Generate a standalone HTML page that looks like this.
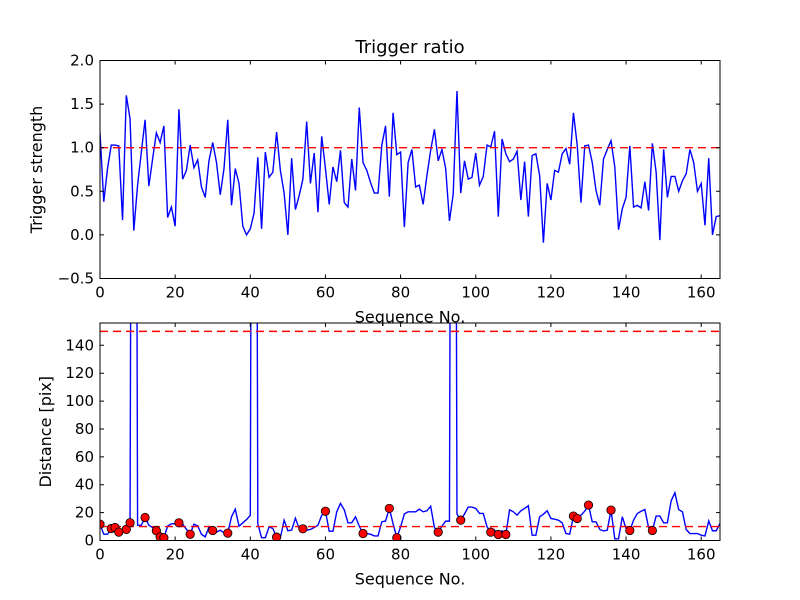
<!DOCTYPE html>
<html><head><meta charset="utf-8">
<style>
html,body{margin:0;padding:0;background:#fff;}
svg{display:block;font-family:"DejaVu Sans","Liberation Sans",sans-serif;}
</style></head>
<body>
<svg id="fig" width="800" height="600" viewBox="0 0 800 600" xmlns="http://www.w3.org/2000/svg">
<rect x="0" y="0" width="800" height="600" fill="#fff"/>
<text x="410" y="53" font-size="18" text-anchor="middle">Trigger ratio</text>
</svg>
<script>
const ratioValues = [1.17,0.38,0.76,1.03,1.03,1.02,0.17,1.6,1.33,0.05,0.57,0.95,1.32,0.56,0.87,1.17,1.06,1.25,0.2,0.32,0.1,1.44,0.64,0.74,1.03,0.77,0.86,0.55,0.43,0.85,1.06,0.83,0.46,0.76,1.32,0.34,0.76,0.59,0.1,0.0,0.07,0.25,0.89,0.07,0.95,0.66,0.72,1.18,0.74,0.48,0.0,0.88,0.29,0.45,0.64,1.3,0.59,0.94,0.26,1.13,0.76,0.35,0.78,0.61,0.97,0.37,0.32,0.87,0.51,1.46,0.83,0.74,0.6,0.48,0.48,1.03,1.25,0.44,1.4,0.92,0.95,0.09,0.83,0.98,0.55,0.57,0.35,0.68,0.97,1.21,0.85,0.98,0.76,0.16,0.47,1.65,0.48,0.85,0.64,0.66,0.94,0.57,0.67,1.03,1.01,1.19,0.21,1.1,0.93,0.84,0.87,0.96,0.4,0.84,0.21,0.91,0.93,0.68,-0.09,0.59,0.4,0.74,0.72,0.93,0.99,0.81,1.4,1.03,0.37,1.02,1.03,0.83,0.51,0.34,0.87,0.98,1.08,0.78,0.06,0.3,0.43,1.02,0.32,0.34,0.31,0.61,0.28,1.05,0.72,-0.06,0.98,0.43,0.67,0.67,0.5,0.62,0.7,0.98,0.83,0.5,0.59,0.11,0.88,0.0,0.21,0.22];
const distanceValues = [11.7,4.5,4.5,8.6,9.3,6,7,8,12.7,1000,11,11,16.5,11,9.3,7,2.6,2,10.3,12,12,12.7,11.7,8,4.5,11.7,10.5,4.5,2.6,9.8,7.2,6,7.4,5.5,5.3,17,22.5,10.3,12.7,15,18,1000,12,2,2,9.8,8.6,2.4,2,14.6,7,7.4,16,8.6,8.4,7.4,7.9,9.3,11,18,21,6.7,6.7,20.6,26.6,22,12.7,12.7,17,10.3,5,5,4.5,3.3,3.3,13.4,14,23,12,2,9.8,19,20.6,20.6,20.6,22.5,20.6,21.3,24.6,9.3,6,10.3,13.9,13.9,1000,19,14.6,19,24,24,23,19.4,19.4,9.8,6,7.4,4.3,7,4.3,22,20.6,18.2,21.3,23,24.9,3.8,3.8,17,18.9,21.3,15.8,15.3,14.6,12.7,5,4.5,17.5,15.8,18.2,21,25.4,13.4,13.4,7.9,6.9,7.4,21.8,1.2,1.2,17,8.6,7.2,14.6,19.4,21,22.2,9.3,7.2,17.5,17.5,12.7,12.7,28.5,34.2,22.2,20.6,7.9,5,5,5,3.8,3.3,14,7,7,12.2];
const markerIndices = [0,3,4,5,7,8,12,15,16,17,21,24,30,34,47,54,60,70,77,79,90,96,104,106,108,126,127,130,136,141,147];
const ratioThreshold = [1.0];
const distanceThresholds = [10,150];
const xTicks = [0,20,40,60,80,100,120,140,160];
const ratioTicks = [-0.5,0,0.5,1.0,1.5,2.0];
const distanceTicks = [0,20,40,60,80,100,120,140];

const NS='http://www.w3.org/2000/svg';
const svg=document.getElementById('fig');
function mk(tag,attrs,parent){const e=document.createElementNS(NS,tag);for(const k in attrs)e.setAttribute(k,attrs[k]);(parent||svg).appendChild(e);return e;}
const X0=100,X1=720,XMAX=165;
function sx(v){return X0+(X1-X0)*v/XMAX;}
function fmtR(v){return (v<0?'\u2212':'')+Math.abs(v).toFixed(1);}

function axes(prefix,top,bot,ymin,ymax,yTicks,fmt,ylabel,ylabelX){
  const sy=v=>bot-(bot-top)*(v-ymin)/(ymax-ymin);
  const g=mk('g',{});
  
  
  const cid=prefix+'-clip';
  const cp=mk('clipPath',{id:cid},g);mk('rect',{x:X0,y:top,width:X1-X0,height:bot-top},cp);
  return {sy,g,cid,draw(){
    xTicks.forEach(t=>{const x=sx(t);
      const tk=mk('path',{d:`M${x},${bot}v-4M${x},${top}v4`,stroke:'#000','stroke-width':1},g);
      
      
      const l=mk('text',{x:x,y:bot+19,'font-size':15,'text-anchor':'middle'},g);l.textContent=t;
      
      });
    yTicks.forEach(t=>{const y=sy(t);
      const tk=mk('path',{d:`M${X0},${y}h4M${X1},${y}h-4`,stroke:'#000','stroke-width':1},g);
      
      
      const l=mk('text',{x:X0-6,y:y+5,'font-size':15,'text-anchor':'end'},g);l.textContent=fmt(t);
      
      });
    const fr=mk('rect',{x:X0,y:top,width:X1-X0,height:bot-top,fill:'none',stroke:'#000','stroke-width':1},g);
    
    
    const xl=mk('text',{x:(X0+X1)/2,y:bot+44,'font-size':16,'text-anchor':'middle'},g);xl.textContent='Sequence No.';
    
    
    const cy=(top+bot)/2;
    const yl=mk('text',{x:ylabelX,y:cy,'font-size':16,'text-anchor':'middle',transform:`rotate(-90 ${ylabelX} ${cy})`},g);yl.textContent=ylabel;
    
    
  }};
}

const A=axes('ratio',60.5,278.5,-0.5,2.0,ratioTicks,fmtR,'Trigger strength',42);
const pl=mk('polyline',{points:ratioValues.map((v,i)=>sx(i)+','+A.sy(v)).join(' '),fill:'none',stroke:'#0000ff','stroke-width':1.4,'clip-path':`url(#${A.cid})`},A.g);


ratioThreshold.forEach(t=>{const l=mk('line',{x1:X0,x2:X1,y1:A.sy(t),y2:A.sy(t),stroke:'#ff0000','stroke-width':1.4,'stroke-dasharray':'8,5'},A.g);
  
  });
A.draw();

const B=axes('distance',323,540.5,0,156,distanceTicks,v=>String(v),'Distance [pix]',51);
const pl2=mk('polyline',{points:distanceValues.map((v,i)=>sx(i)+','+B.sy(v)).join(' '),fill:'none',stroke:'#0000ff','stroke-width':1.4,'clip-path':`url(#${B.cid})`},B.g);


distanceThresholds.forEach(t=>{const l=mk('line',{x1:X0,x2:X1,y1:B.sy(t),y2:B.sy(t),stroke:'#ff0000','stroke-width':1.4,'stroke-dasharray':'8,5'},B.g);
  
  });
const mg=mk('g',{'clip-path':`url(#${B.cid})`},B.g);
markerIndices.forEach(i=>{const c=mk('circle',{cx:sx(i),cy:B.sy(distanceValues[i]),r:4.2,fill:'#ff0000',stroke:'#000','stroke-width':0.8},mg);
  
  });
B.draw();
</script>
</body></html>
